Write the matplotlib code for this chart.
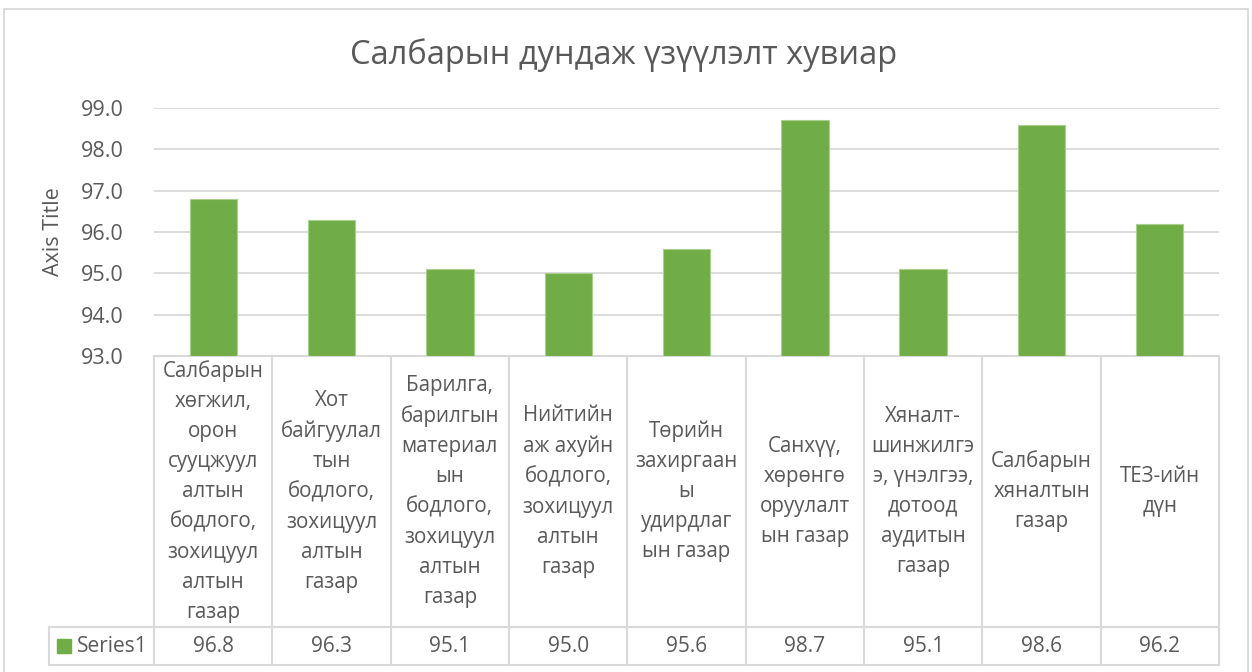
import matplotlib
matplotlib.use("Agg")
import matplotlib.pyplot as plt
from matplotlib.patches import Rectangle
from matplotlib.lines import Line2D

categories = [
    "Салбарын\nхөгжил,\nорон\nсууцжуул\nалтын\nбодлого,\nзохицуул\nалтын\nгазар",
    "Хот\nбайгуулал\nтын\nбодлого,\nзохицуул\nалтын\nгазар",
    "Барилга,\nбарилгын\nматериал\nын\nбодлого,\nзохицуул\nалтын\nгазар",
    "Нийтийн\nаж ахуйн\nбодлого,\nзохицуул\nалтын\nгазар",
    "Төрийн\nзахиргаан\nы\nудирдлаг\nын газар",
    "Санхүү,\nхөрөнгө\nоруулалт\nын газар",
    "Хяналт-\nшинжилгэ\nэ, үнэлгээ,\nдотоод\nаудитын\nгазар",
    "Салбарын\nхяналтын\nгазар",
    "ТЕЗ-ийн\nдүн",
]
values = [96.8, 96.3, 95.1, 95.0, 95.6, 98.7, 95.1, 98.6, 96.2]
series_name = "Series1"
title = "Салбарын дундаж үзүүлэлт хувиар"
y_ticks = [93, 94, 95, 96, 97, 98, 99]

W, H = 1252, 672
TXT = "#595959"
GRID = "#D9D9D9"
GREEN = "#70AD47"
plt.rcParams['font.family'] = ['Open Sans', 'DejaVu Sans']

fig = plt.figure(figsize=(W / 100, H / 100), dpi=100)
# plot area in pixels: x 154..1219, y 108..356
x0, x1, y0, y1 = 154, 1219, 108, 356
ax = fig.add_axes([x0 / W, 1 - y1 / H, (x1 - x0) / W, (y1 - y0) / H])

n = len(values)
xs = list(range(n))
ax.bar(xs, [v - y_ticks[0] for v in values], bottom=y_ticks[0], width=0.4,
       color=GREEN, edgecolor="#A9D18E", linewidth=0.8, zorder=3)
ax.set_xlim(-0.5, n - 0.5)
ax.set_ylim(y_ticks[0], y_ticks[-1])
ax.set_yticks(y_ticks)
ax.set_yticklabels([f"{t:.1f}" for t in y_ticks])
ax.set_xticks([])
ax.tick_params(axis='y', length=0, pad=22, labelsize=15.5, labelcolor=TXT)
ax.grid(axis='y', color=GRID, linewidth=1.3, zorder=0)
for s in ['top', 'right', 'left', 'bottom']:
    ax.spines[s].set_visible(False)
ax.set_ylabel("Axis Title", fontsize=15.5, color=TXT, labelpad=12)

# data table below the plot
ph = y1 - y0
cat_w = (x1 - x0) / n
r1 = (y1 - 627) / ph
r2 = (y1 - 665) / ph
leg_x = -0.5 - (x0 - 49) / cat_w
tr = ax.get_xaxis_transform()
line_kw = dict(color=GRID, linewidth=1.5, transform=tr, clip_on=False)
ax.add_line(Line2D([-0.5, n - 0.5], [0, 0], **line_kw))
ax.add_line(Line2D([leg_x, n - 0.5], [r1, r1], **line_kw))
ax.add_line(Line2D([leg_x, n - 0.5], [r2, r2], **line_kw))
ax.add_line(Line2D([leg_x, leg_x], [r1, r2], **line_kw))
for i in range(n + 1):
    ax.add_line(Line2D([i - 0.5, i - 0.5], [0, r2], **line_kw))
for i, (c, v) in enumerate(zip(categories, values)):
    ax.text(i, r1 / 2, c, transform=tr, ha='center', va='center', fontsize=14.8,
            color=TXT, linespacing=1.56, clip_on=False)
    ax.text(i, (r1 + r2) / 2, f"{v:.1f}", transform=tr, ha='center', va='center',
            fontsize=15, color=TXT, clip_on=False)

# legend key in the table
fig.add_artist(Rectangle((57 / W, 1 - 653 / H), 14 / W, 14 / H,
                         transform=fig.transFigure, color=GREEN))
fig.text(77 / W, 1 - 646 / H, series_name, ha='left', va='center',
         fontsize=15, color=TXT)

fig.text(624 / W, 1 - 55 / H, title, ha='center', va='center',
         fontsize=23.5, color=TXT)

# chart border
fig.add_artist(Rectangle((4 / W, -0.02), 1244 / W, (H - 9) / H + 0.02,
                         transform=fig.transFigure, fill=False,
                         edgecolor=GRID, linewidth=1.3))

fig.savefig("out.png", dpi=100)
